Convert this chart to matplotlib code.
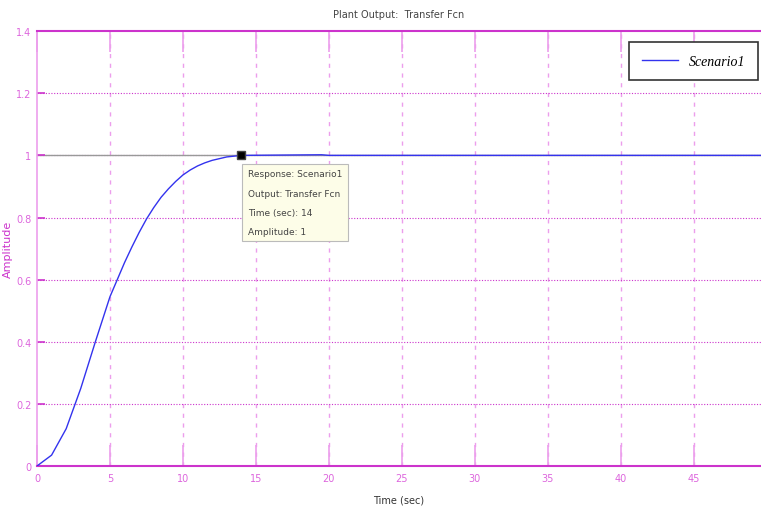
import matplotlib.pyplot as plt

# step response
t = [0, 1, 2, 3, 4, 5, 6, 6.5, 7, 7.5, 8, 8.5, 9, 9.5, 10, 10.5, 11, 11.5,
     12, 13, 14, 19.5, 20, 49.6]
amp = [0, 0.035, 0.12, 0.25, 0.40, 0.545, 0.655, 0.705, 0.752, 0.795, 0.832,
       0.865, 0.892, 0.916, 0.937, 0.953, 0.966, 0.976, 0.984, 0.995, 1.0,
       1.002, 1.0, 1.0]
xticks = [0, 5, 10, 15, 20, 25, 30, 35, 40, 45]
yticks = [0, 0.2, 0.4, 0.6, 0.8, 1.0, 1.2, 1.4]
ytick_labels = ['0', '0.2', '0.4', '0.6', '0.8', '1', '1.2', '1.4']
tip_t, tip_amp = 14, 1
tip_lines = ['Response: Scenario1', 'Output: Transfer Fcn',
             'Time (sec): 14', 'Amplitude: 1']

plt.rcParams['font.family'] = ['Liberation Sans Narrow', 'DejaVu Sans']
mag = '#cc33cc'
mag_light = '#ec9eec'

fig = plt.figure(figsize=(7.61, 5.10), dpi=100)
ax = fig.add_axes([0.0486, 0.0843, 0.9514, 0.8527])

ax.axhline(1, color='#999999', lw=1, zorder=1)
ax.plot(t, amp, color='#3333ee', lw=1, label='Scenario1', zorder=3)

ax.set_xlim(0, 49.6)
ax.set_ylim(0, 1.4)
ax.set_xticks(xticks)
ax.set_yticks(yticks)
ax.set_yticklabels(ytick_labels)

# grid
for x in xticks[1:]:
    ax.axvline(x, color=mag_light, lw=1.0, ls=(0, (3, 4)), zorder=0)
for y in yticks[1:-1]:
    ax.axhline(y, color=mag, lw=0.8, ls=(0, (1, 1.5)), zorder=0)

for s in ['top', 'bottom']:
    ax.spines[s].set_color(mag)
    ax.spines[s].set_linewidth(1.5)
ax.spines['left'].set_color(mag_light)
ax.spines['left'].set_linewidth(1.2)
ax.spines['right'].set_visible(False)

ax.tick_params(axis='x', direction='in', length=15, width=1.2, color=mag_light,
               labelcolor='#dd66dd', labelsize=7, pad=5, top=True)
ax.tick_params(axis='y', direction='in', length=6, width=1.2, color=mag,
               labelcolor='#dd66dd', labelsize=7, pad=4)

ax.set_title('Plant Output:  Transfer Fcn', fontsize=7, color='#444444', pad=10)
ax.set_xlabel('Time (sec)', fontsize=7, color='#333333', labelpad=8)
ax.set_ylabel('Amplitude', fontsize=8, color='#cc33cc', labelpad=2)

leg = ax.legend(loc='upper right', bbox_to_anchor=(0.996, 0.975), fancybox=False,
                edgecolor='#333333', framealpha=1, handlelength=2.6,
                prop={'family': 'Liberation Serif', 'style': 'italic', 'size': 10},
                borderpad=0.9, borderaxespad=0)
leg.get_frame().set_linewidth(1.2)

# data tip
ax.plot([tip_t], [tip_amp], marker='s', ms=6, mfc='black', mec='#444444', zorder=5)
ax.text(tip_t + 0.45, 0.955, '\n'.join(tip_lines), fontsize=6.5, color='#444444',
        va='top', ha='left', linespacing=2.45, zorder=6,
        bbox=dict(boxstyle='square,pad=0.6', fc='#fdfde8', ec='#bbbbbb', lw=0.8))

fig.savefig('out.png', dpi=100)
